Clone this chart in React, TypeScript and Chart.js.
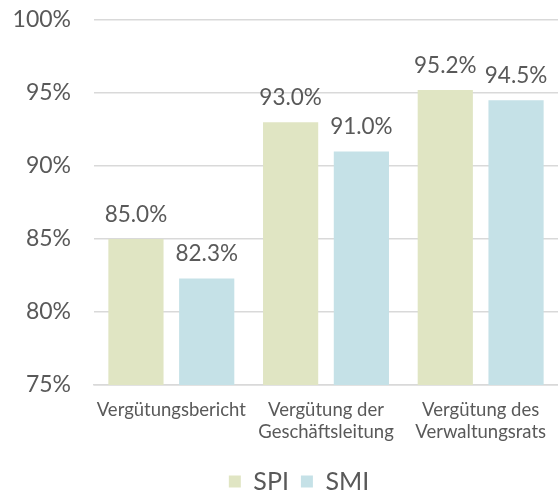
import React, { useEffect, useRef } from "react";
import { Chart, registerables } from "chart.js";

Chart.register(...registerables);

const categories: string[][] = [
  ["Vergütungsbericht"],
  ["Vergütung der", "Geschäftsleitung"],
  ["Vergütung des", "Verwaltungsrats"],
];
const spiValues = [85.0, 93.0, 95.2];
const smiValues = [82.3, 91.0, 94.5];
const seriesNames = ["SPI", "SMI"];
const yMin = 75;
const yMax = 100;
const yStep = 5;

const TEXT = "#595959";
const FONT = "Lato";

const dataLabelPlugin = {
  id: "dataLabels",
  afterLayout(chart: any) {
    const lg = chart.legend;
    if (lg) {
      lg.left += 20;
      lg.right += 20;
    }
  },
  afterDatasetsDraw(chart: any) {
    const ctx = chart.ctx;
    ctx.save();
    ctx.font = `22.5px ${FONT}`;
    ctx.fillStyle = TEXT;
    ctx.textAlign = "center";
    ctx.textBaseline = "alphabetic";
    chart.data.datasets.forEach((ds: any, di: number) => {
      const meta = chart.getDatasetMeta(di);
      meta.data.forEach((el: any, i: number) => {
        const v = ds.data[i];
        ctx.fillText(v.toFixed(1) + "%", el.x, el.y - 17);
      });
    });
    ctx.restore();
  },
};

export default function App() {
  const ref = useRef<HTMLCanvasElement | null>(null);
  useEffect(() => {
    if (!ref.current) return;
    const chart = new Chart(ref.current, {
      type: "bar",
      data: {
        labels: categories,
        datasets: [
          {
            label: seriesNames[0],
            data: spiValues,
            backgroundColor: "#e0e5c3",
            barPercentage: 0.78,
            categoryPercentage: 0.915,
          },
          {
            label: seriesNames[1],
            data: smiValues,
            backgroundColor: "#c5e1e7",
            barPercentage: 0.78,
            categoryPercentage: 0.915,
          },
        ],
      },
      options: {
        animation: false,
        responsive: true,
        maintainAspectRatio: false,
        layout: { autoPadding: false, padding: { top: 20, right: 0, left: 0, bottom: -11 } },
        plugins: {
          legend: {
            position: "bottom",
            labels: {
              boxWidth: 12,
              boxHeight: 12,
              color: TEXT,
              font: { family: FONT, size: 25 },
              padding: 12,
            },
          },
          tooltip: { enabled: false },
        },
        scales: {
          x: {
            grid: { display: false, drawTicks: false },
            border: { display: true, color: "#d9d9d9", width: 1.5 },
            ticks: {
              color: TEXT,
              font: { family: FONT, size: 18.5 },
              padding: 14,
              maxRotation: 0,
              autoSkip: false,
            },
            afterFit: (s: any) => {
              s.height = 72;
              s.paddingLeft = 0;
              s.paddingRight = 0;
            },
          },
          y: {
            min: yMin,
            max: yMax,
            grid: { color: "#d9d9d9", lineWidth: 1.5, drawTicks: false },
            border: { display: false },
            ticks: {
              stepSize: yStep,
              color: TEXT,
              font: { family: FONT, size: 23 },
              padding: 23,
              callback: (v: any) => v + "%",
            },
            afterFit: (s: any) => {
              s.width = 94;
              s.paddingTop = 0;
              s.paddingBottom = 0;
            },
          },
        },
      },
      plugins: [dataLabelPlugin],
    });
    return () => chart.destroy();
  }, []);
  return (
    <div style={{ position: "fixed", left: 0, top: 0, width: 558, height: 493, background: "#fff" }}>
      <canvas ref={ref} />
    </div>
  );
}
